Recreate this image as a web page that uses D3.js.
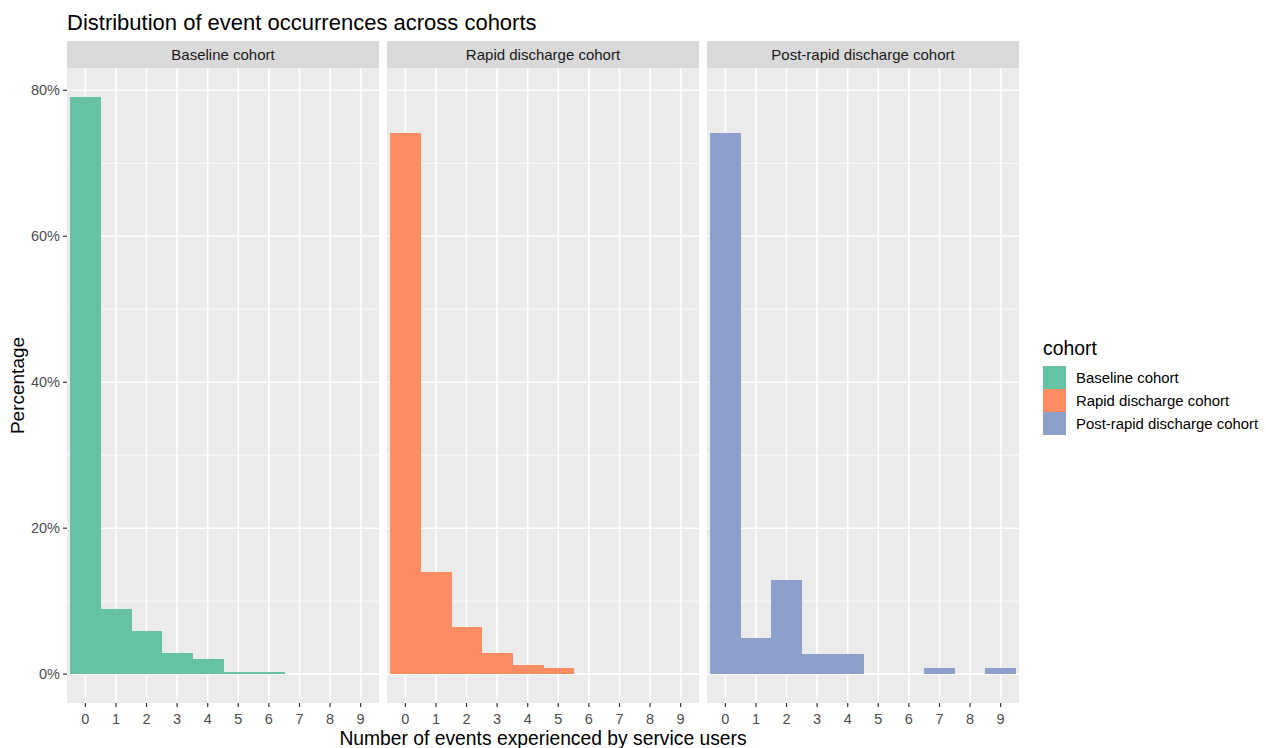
<!DOCTYPE html>
<html lang="en">
<head>
<meta charset="UTF-8">
<title>Distribution of event occurrences across cohorts</title>
<style>
    body { margin: 0; background: #fff; }
    svg { display: block; font-family: "Liberation Sans", Arial, sans-serif; }
    .grid-major { stroke: #fff; stroke-width: 1.6; }
    .grid-minor { stroke: #fff; stroke-width: 0.8; }
    .tick-label { fill: #4d4d4d; font-size: 14.5px; }
    .tick-mark { stroke: #333; stroke-width: 1.2; }
    .bar { shape-rendering: crispEdges; }
</style>
</head>
<body>
<svg width="1266" height="748"></svg>
<script src="https://d3js.org/d3.v7.min.js"></script>
<script>
    // data (percent of service users per event count)
    let cohorts = ["Baseline cohort", "Rapid discharge cohort", "Post-rapid discharge cohort"];
    let colors = ["#66c2a5", "#fc8d62", "#8da0cb"];
    let events = ["0", "1", "2", "3", "4", "5", "6", "7", "8", "9"];
    let baseline = [79.1, 8.9, 5.9, 2.9, 2.1, 0.3, 0.3, 0, 0, 0];
    let rapid = [74.2, 14.0, 6.4, 2.9, 1.3, 0.9, 0, 0, 0, 0];
    let postRapid = [74.2, 5.0, 12.9, 2.8, 2.8, 0, 0, 0.9, 0, 0.9];
    let yTicks = [0, 20, 40, 60, 80];
    let yMinor = [10, 30, 50, 70];

    let series = [baseline, rapid, postRapid];

    let svg = d3.select("svg");
    let panelLeft = 67, panelW = 312, gap = 8;
    let stripTop = 41, panelTop = 68, panelBottom = 703;

    let ymax = d3.max(series, s => d3.max(s));
    let pad = ymax * 0.05;
    let y = d3.scaleLinear().domain([-pad, ymax + pad]).range([panelBottom, panelTop]);

    // title
    svg.append("text")
        .attr("x", 67).attr("y", 30)
        .style("font-size", "22px").attr("fill", "#000")
        .text("Distribution of event occurrences across cohorts");

    cohorts.forEach(function (name, i) {
        let x0 = panelLeft + i * (panelW + gap);
        let x = d3.scaleBand().domain(events).range([x0, x0 + panelW])
            .paddingInner(0).paddingOuter(0.1);
        let g = svg.append("g");

        g.append("rect").attr("x", x0).attr("y", panelTop)
            .attr("width", panelW).attr("height", panelBottom - panelTop)
            .attr("fill", "#ebebeb");

        g.selectAll(".ym").data(yMinor).enter().append("line")
            .attr("class", "grid-minor")
            .attr("x1", x0).attr("x2", x0 + panelW)
            .attr("y1", d => y(d)).attr("y2", d => y(d));
        g.selectAll(".yM").data(yTicks).enter().append("line")
            .attr("class", "grid-major")
            .attr("x1", x0).attr("x2", x0 + panelW)
            .attr("y1", d => y(d)).attr("y2", d => y(d));
        g.selectAll(".xM").data(events).enter().append("line")
            .attr("class", "grid-major")
            .attr("x1", d => x(d) + x.bandwidth() / 2).attr("x2", d => x(d) + x.bandwidth() / 2)
            .attr("y1", panelTop).attr("y2", panelBottom);

        // bars
        g.selectAll(".bar").data(series[i].map((v, k) => ({k: events[k], v: v})).filter(d => d.v > 0))
            .enter().append("rect")
            .attr("class", "bar")
            .attr("x", d => x(d.k))
            .attr("width", x.bandwidth() + 0.5)
            .attr("y", d => y(d.v))
            .attr("height", d => y(0) - y(d.v))
            .attr("fill", colors[i]);

        // strip
        g.append("rect").attr("x", x0).attr("y", stripTop)
            .attr("width", panelW).attr("height", panelTop - stripTop)
            .attr("fill", "#d9d9d9");
        g.append("text")
            .attr("x", x0 + panelW / 2).attr("y", (stripTop + panelTop) / 2 + 5.5)
            .attr("text-anchor", "middle")
            .style("font-size", "15px").attr("fill", "#1a1a1a")
            .text(name);

        // x axis
        g.selectAll(".xt").data(events).enter().append("line")
            .attr("class", "tick-mark")
            .attr("x1", d => x(d) + x.bandwidth() / 2).attr("x2", d => x(d) + x.bandwidth() / 2)
            .attr("y1", panelBottom).attr("y2", panelBottom + 4);
        g.selectAll(".xl").data(events).enter().append("text")
            .attr("class", "tick-label")
            .attr("x", d => x(d) + x.bandwidth() / 2).attr("y", panelBottom + 21)
            .attr("text-anchor", "middle")
            .text(d => d);
    });

    // y axis (left panel only)
    let ya = svg.append("g");
    ya.selectAll("line").data(yTicks).enter().append("line")
        .attr("class", "tick-mark")
        .attr("x1", panelLeft - 4).attr("x2", panelLeft)
        .attr("y1", d => y(d)).attr("y2", d => y(d));
    ya.selectAll("text").data(yTicks).enter().append("text")
        .attr("class", "tick-label")
        .attr("x", panelLeft - 7).attr("y", d => y(d) + 5)
        .attr("text-anchor", "end")
        .text(d => d + "%");

    // axis titles
    let right = panelLeft + 3 * panelW + 2 * gap;
    svg.append("text")
        .attr("x", (panelLeft + right) / 2).attr("y", 745)
        .attr("text-anchor", "middle")
        .style("font-size", "19.3px").attr("fill", "#000")
        .text("Number of events experienced by service users");
    svg.append("text")
        .attr("transform", "translate(24," + ((panelTop + panelBottom) / 2) + ") rotate(-90)")
        .attr("text-anchor", "middle")
        .style("font-size", "19px").attr("fill", "#000")
        .text("Percentage");

    // legend
    let lg = svg.append("g").attr("transform", "translate(1043,340)");
    lg.append("text").attr("x", 0).attr("y", 15)
        .style("font-size", "19.4px").attr("fill", "#000")
        .text("cohort");
    cohorts.forEach(function (name, i) {
        lg.append("rect").attr("x", 0).attr("y", 26 + i * 23)
            .attr("width", 23).attr("height", 23).attr("fill", colors[i]);
        lg.append("text").attr("x", 33).attr("y", 26 + i * 23 + 17)
            .style("font-size", "14.9px").attr("fill", "#000")
            .text(name);
    });
</script>
</body>
</html>
